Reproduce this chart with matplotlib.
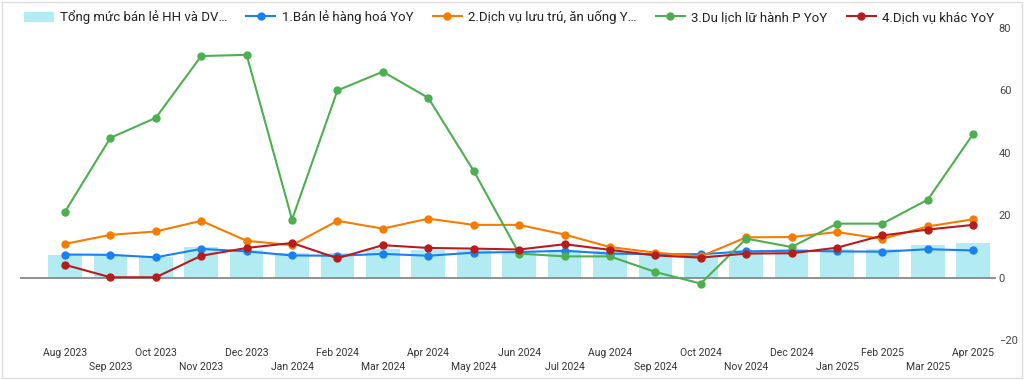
import matplotlib.pyplot as plt
import numpy as np
from matplotlib.patches import Rectangle
from matplotlib.lines import Line2D

plt.rcParams['font.family'] = ['Roboto', 'DejaVu Sans']

months = ['Aug 2023', 'Sep 2023', 'Oct 2023', 'Nov 2023', 'Dec 2023', 'Jan 2024', 'Feb 2024',
          'Mar 2024', 'Apr 2024', 'May 2024', 'Jun 2024', 'Jul 2024', 'Aug 2024', 'Sep 2024',
          'Oct 2024', 'Nov 2024', 'Dec 2024', 'Jan 2025', 'Feb 2025', 'Mar 2025', 'Apr 2025']

tong_muc = [7.2, 7.2, 6.6, 9.9, 9.0, 7.9, 8.0, 9.1, 8.7, 8.9, 8.1, 9.0, 8.5, 7.9, 7.4,
            8.9, 9.2, 9.1, 9.3, 10.6, 11.0]
ban_le = [7.4, 7.3, 6.5, 9.2, 8.4, 7.1, 7.0, 7.6, 7.0, 8.0, 8.2, 8.6, 7.7, 7.5, 7.5,
          8.4, 8.6, 8.4, 8.3, 9.1, 8.7]
luu_tru = [10.8, 13.7, 14.8, 18.2, 11.8, 10.4, 18.2, 15.7, 18.9, 16.9, 16.9, 13.8, 9.8, 8.0,
           6.8, 12.9, 13.0, 14.6, 12.4, 16.4, 18.7]
du_lich = [21.1, 44.8, 51.2, 71.0, 71.4, 18.6, 60.0, 66.0, 57.6, 34.2, 7.7, 6.8, 6.8, 1.8,
           -1.9, 12.5, 9.8, 17.3, 17.3, 25.0, 46.1]
dv_khac = [4.1, 0.1, 0.1, 7.0, 9.5, 11.1, 6.2, 10.4, 9.5, 9.3, 9.0, 10.7, 8.9, 7.1, 6.4,
           7.7, 7.8, 9.6, 13.5, 15.4, 16.9]

labels = ['Tổng mức bán lẻ HH và DV…', '1.Bán lẻ hàng hoá YoY', '2.Dịch vụ lưu trú, ăn uống Y…',
          '3.Du lịch lữ hành P YoY', '4.Dịch vụ khác YoY']
colors = ['#b2ebf2', '#1a7ff0', '#f57c00', '#4caf50', '#b71c1c']

x = np.arange(len(months))

fig = plt.figure(figsize=(10.24, 3.8), dpi=100)
ax = fig.add_axes([20 / 1024, 40 / 380, 976 / 1024, 312 / 380])

ax.bar(x, tong_muc, width=0.74, color=colors[0], zorder=1)
series = [ban_le, luu_tru, du_lich, dv_khac]
for s, c in zip(series, colors[1:]):
    ax.plot(x, s, color=c, lw=1.5, marker='o', markersize=5, zorder=3)

ax.axhline(0, color='#888888', lw=1.3, zorder=2)
ax.set_xlim(-0.99, 20.5)
ax.set_ylim(-20, 80)

ax.yaxis.tick_right()
ax.set_yticks([-20, 0, 20, 40, 60, 80])
ax.tick_params(axis='y', length=0, labelsize=8, labelcolor='#444444', pad=2)
ax.set_xticks(x)
ax.set_xticklabels([m if i % 2 == 0 else '\n' + m for i, m in enumerate(months)],
                   linespacing=1.45)
ax.tick_params(axis='x', length=0, labelsize=7.5, labelcolor='#333333', pad=6)
for sp in ax.spines.values():
    sp.set_visible(False)

handles = [Rectangle((0, 0), 1, 1, color=colors[0])]
for c in colors[1:]:
    handles.append(Line2D([0], [0], color=c, lw=1.5, marker='o', markersize=5))
fig.legend(handles, labels, ncol=5, loc='upper left', bbox_to_anchor=(0.012, 1.005),
           frameon=False, fontsize=9.5, handlelength=2.2, handletextpad=0.5,
           columnspacing=1.45, labelcolor='#222222')

# light card border
fig.patches.append(Rectangle((0.002, 0.006), 0.996, 0.99, transform=fig.transFigure,
                             fill=False, edgecolor='#dddddd', lw=1))

fig.savefig('out.png', dpi=100)
